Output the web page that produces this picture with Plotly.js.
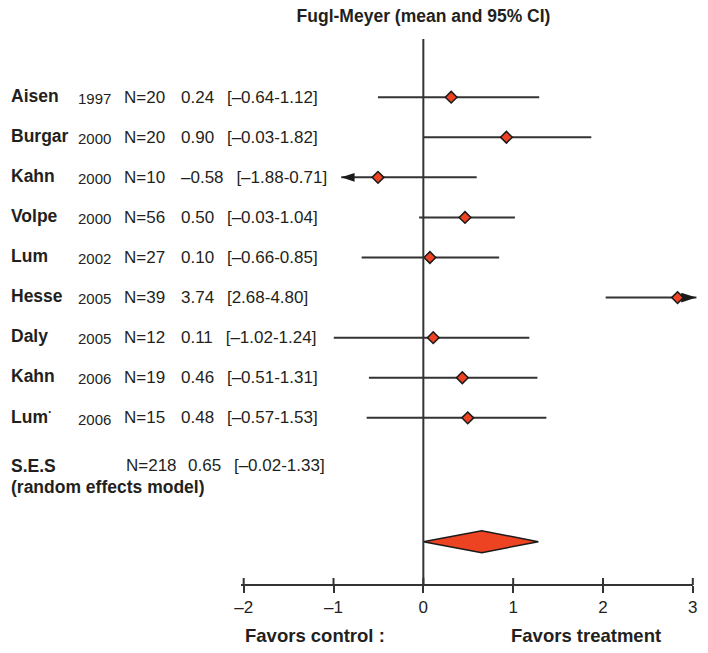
<!DOCTYPE html>
<html><head><meta charset="utf-8">
<script src="https://cdn.plot.ly/plotly-3.0.1.min.js"></script>
<style>body{margin:0;background:#fff}</style>
</head><body><div id="chart" style="width:708px;height:653px"></div>
<script>
// ---- data ----
const studies = ["Aisen","Burgar","Kahn","Volpe","Lum","Hesse","Daly","Kahn","Lum<sup>·</sup>"];
const years = ["1997","2000","2000","2000","2002","2005","2005","2006","2006"];
const nLabels = ["N=20","N=20","N=10","N=56","N=27","N=39","N=12","N=19","N=15"];
const effectLabels = ["0.24","0.90","–0.58","0.50","0.10","3.74","0.11","0.46","0.48"];
const ciLabels = ["[–0.64-1.12]","[–0.03-1.82]","[–1.88-0.71]","[–0.03-1.04]","[–0.66-0.85]","[2.68-4.80]","[–1.02-1.24]","[–0.51-1.31]","[–0.57-1.53]"];
// plotted positions as drawn in the figure
const est = [0.31,0.925,-0.505,0.464,0.073,2.83,0.11,0.434,0.494];
const lo  = [-0.505,0.0,-0.914,-0.047,-0.687,2.03,-0.997,-0.606,-0.631];
const hi  = [1.29,1.87,0.594,1.02,0.844,3.04,1.18,1.27,1.37];
const truncated = ["","","left","","","right","","",""];
const pooledName = "S.E.S";
const pooledModel = "(random effects model)";
const pooledN = "N=218";
const pooledEffect = "0.65";
const pooledCI = "[–0.02-1.33]";
const pooledEst = 0.65, pooledLo = 0.0, pooledHi = 1.28;
const tickVals = [-2,-1,0,1,2,3];
const tickText = ["–2","–1","0","1","2","3"];
const title = "Fugl-Meyer (mean and 95% CI)";
const leftLabel = "Favors control :";
const rightLabel = "Favors treatment";

// ---- layout helpers ----
const FONT = "Liberation Sans, Arial, Helvetica, sans-serif";
const INK = "#231f20";
const LINE = "#333333";
const RED = "#ee4322";
const X0 = -2.03, X1 = 3.08;
const L = 241, W = 459;               // plot left & width in px
const px = p => (p - L) / W;          // page px -> paper x
const rowY = i => i;                  // row index on y axis
const sesY = 9.2, modelY = 9.73, diamondY = 11.09, dh = 0.274;

const traces = [];
const annotations = [];
const shapes = [];

studies.forEach((s, i) => {
  traces.push({x:[lo[i], hi[i]], y:[rowY(i), rowY(i)], mode:"lines",
    line:{color:LINE, width:2}, hoverinfo:"skip", cliponaxis:false});
});
// arrowheads for truncated intervals (one trace each)
truncated.forEach((t, i) => {
  if (!t) return;
  const left = t === "left";
  traces.push({x:[left ? lo[i] : hi[i]], y:[rowY(i)], mode:"markers", cliponaxis:false, hoverinfo:"skip",
    marker:{symbol:"arrow", angle: left ? 270 : 90, size: left ? 14 : 16, color:"#1a1a1a", line:{width:0}}});
});
// point estimates
traces.push({x:est, y:studies.map((s,i)=>rowY(i)), mode:"markers", cliponaxis:false, hoverinfo:"skip",
  marker:{symbol:"diamond", size:9, color:RED, line:{color:"#1a1a1a", width:1.5}}});
// pooled diamond
traces.push({x:[pooledLo, pooledEst, pooledHi, pooledEst, pooledLo],
  y:[diamondY, diamondY-dh, diamondY, diamondY+dh, diamondY],
  mode:"lines", fill:"toself", fillcolor:RED, line:{color:"#1a1a1a", width:1.5}, hoverinfo:"skip"});

function txt(x, y, text, size, bold) {
  annotations.push({xref:"paper", yref:"y", x:x, y:y, text: bold ? "<b>"+text+"</b>" : text,
    showarrow:false, xanchor:"left", yanchor:"middle",
    font:{family:FONT, size:size, color:INK}});
}
const gap = "\u00a0\u00a0\u2009";
studies.forEach((s, i) => {
  txt(px(9), rowY(i) - 0.04, s, 17.5, true);
  txt(px(76), rowY(i) + 0.03, years[i], 15, false);
  txt(px(122), rowY(i), nLabels[i], 17, false);
  txt(px(179), rowY(i), effectLabels[i] + gap + ciLabels[i], 17, false);
});
txt(px(9), sesY, pooledName, 17.5, true);
txt(px(9), modelY, pooledModel, 17.5, true);
txt(px(124), sesY, pooledN, 17, false);
txt(px(186), sesY, pooledEffect + gap + pooledCI, 17, false);

annotations.push({xref:"paper", yref:"paper", x:px(243), y:-0.0934, text:"<b>"+leftLabel+"</b>",
  showarrow:false, xanchor:"left", yanchor:"middle", font:{family:FONT, size:18.5, color:INK}});
annotations.push({xref:"paper", yref:"paper", x:px(509), y:-0.0934, text:"<b>"+rightLabel+"</b>",
  showarrow:false, xanchor:"left", yanchor:"middle", font:{family:FONT, size:18.5, color:INK}});

// zero line
shapes.push({type:"line", xref:"x", yref:"paper", x0:0, x1:0, y0:0, y1:1, line:{color:LINE, width:2}});
// x axis line from range start to last tick
shapes.push({type:"line", xref:"x", yref:"paper", x0:X0, x1:tickVals[tickVals.length-1], y0:0, y1:0,
  line:{color:LINE, width:2}});
// upper halves of ticks
tickVals.forEach(t => shapes.push({type:"line", xref:"x", yref:"paper", ysizemode:"pixel", yanchor:0,
  x0:t, x1:t, y0:0, y1:7, line:{color:LINE, width:2}}));

const layout = {
  width:708, height:653,
  margin:{l:L, r:708-L-W, t:39, b:68},
  paper_bgcolor:"#fff", plot_bgcolor:"#fff",
  showlegend:false, hovermode:false,
  title:{text:"<b>"+title+"</b>", x:423.5/708, xanchor:"center", xref:"container",
    y:1-16/653, yanchor:"middle", yref:"container", font:{family:FONT, size:17.5, color:INK}},
  xaxis:{range:[X0, X1], showgrid:false, zeroline:false, showline:false,
    ticks:"outside", ticklen:7, tickwidth:2, tickcolor:LINE, tickvals:tickVals, ticktext:tickText,
    tickfont:{family:FONT, size:17, color:INK}, fixedrange:true},
  yaxis:{range:[12.17, -1.452], visible:false, fixedrange:true},
  annotations:annotations, shapes:shapes
};
Plotly.newPlot("chart", traces, layout, {displayModeBar:false, staticPlot:true});
</script></body></html>
